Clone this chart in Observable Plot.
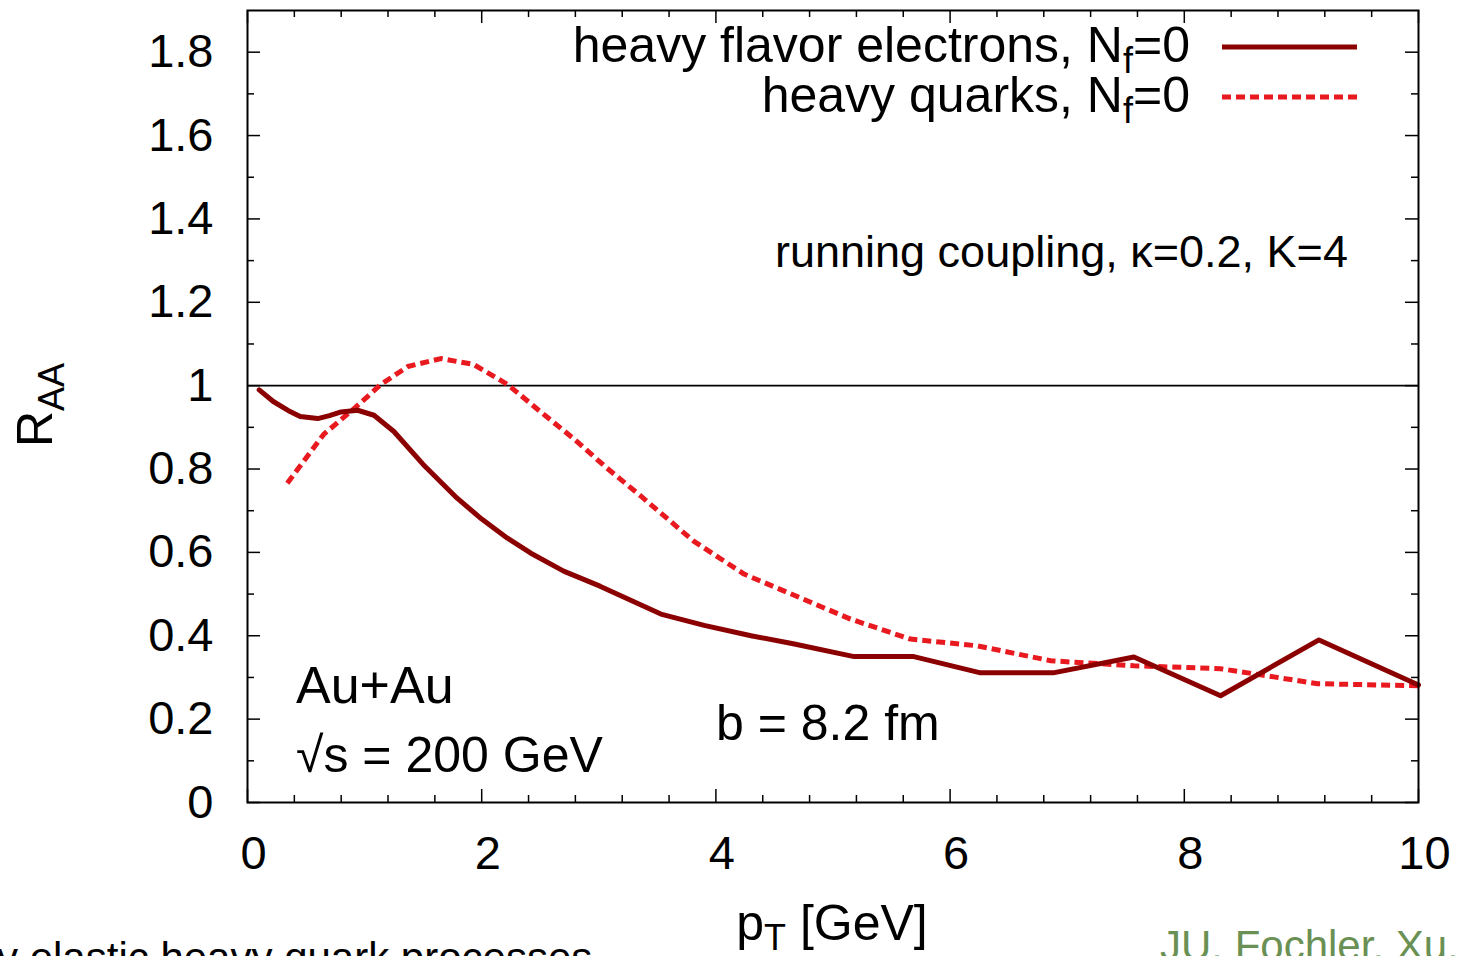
<!DOCTYPE html>
<html>
<head>
<meta charset="utf-8">
<script src="https://cdn.jsdelivr.net/npm/d3@7"></script>
<script src="https://cdn.jsdelivr.net/npm/@observablehq/plot@0.6"></script>
<style>
  html, body { margin: 0; padding: 0; background: #fff; overflow: hidden; }
  #chart svg { display: block; }
</style>
</head>
<body>
<div id="chart"></div>
<script>
// ---- data ----
const electronsPt  = [0.10, 0.22, 0.35, 0.45, 0.60, 0.70, 0.80, 0.94, 1.08, 1.25, 1.50, 1.79, 2.00, 2.22, 2.42, 2.70, 3.01, 3.53, 3.90, 4.30, 4.66, 5.18, 5.69, 6.26, 6.88, 7.57, 8.31, 9.15, 10.0];
const electronsRaa = [0.990, 0.962, 0.940, 0.926, 0.921, 0.928, 0.937, 0.941, 0.929, 0.890, 0.811, 0.730, 0.680, 0.634, 0.598, 0.555, 0.519, 0.452, 0.425, 0.400, 0.381, 0.350, 0.350, 0.311, 0.311, 0.349, 0.256, 0.390, 0.282];

const quarksPt  = [0.34, 0.65, 0.91, 1.14, 1.37, 1.65, 1.93, 2.22, 2.50, 2.78, 3.07, 3.36, 3.81, 4.24, 4.72, 5.15, 5.66, 6.23, 6.86, 7.57, 8.31, 9.14, 10.0];
const quarksRaa = [0.766, 0.883, 0.945, 1.003, 1.046, 1.065, 1.051, 1.003, 0.938, 0.874, 0.802, 0.735, 0.627, 0.548, 0.491, 0.440, 0.392, 0.376, 0.340, 0.328, 0.321, 0.285, 0.280];

const xMajorTicks = [0, 2, 4, 6, 8, 10];
const xMinorTicks = [0.4, 0.8, 1.2, 1.6, 2.4, 2.8, 3.2, 3.6, 4.4, 4.8, 5.2, 5.6, 6.4, 6.8, 7.2, 7.6, 8.4, 8.8, 9.2, 9.6];
const yMajorTicks = [0, 0.2, 0.4, 0.6, 0.8, 1, 1.2, 1.4, 1.6, 1.8];
const yMinorTicks = [0.1, 0.3, 0.5, 0.7, 0.9, 1.1, 1.3, 1.5, 1.7];
const referenceLine = [1];

const seriesNames = ["heavy flavor electrons", "heavy quarks"];

// ---- tables built from the arrays ----
const electrons = electronsPt.map((pt, i) => ({pt, raa: electronsRaa[i]}));
const quarks = quarksPt.map((pt, i) => ({pt, raa: quarksRaa[i]}));

// ---- layout ----
const W = 1458, H = 956;
const mL = 247, mR = 40, mT = 10, mB = 154;
const innerW = W - mL - mR, innerH = H - mT - mB;
const majorLen = 13, minorLen = 7;
const font = "'Liberation Sans', Arial, Helvetica, sans-serif";
const darkRed = "#8b0000", red = "#e8191f";

const tickStyle = {stroke: "black", strokeWidth: 1.5};

const svg = Plot.plot({
  width: W, height: H,
  marginLeft: mL, marginRight: mR, marginTop: mT, marginBottom: mB,
  style: {fontFamily: font, background: "white", color: "black", overflow: "hidden"},
  x: {domain: [0, 10], label: null},
  y: {domain: [0, 1.9], label: null},
  marks: [
    Plot.ruleY(referenceLine, {stroke: "black", strokeWidth: 1.6}),
    // ticks, inward, on all four sides
    Plot.tickX(xMajorTicks, {x: d => d, insetTop: innerH - majorLen, ...tickStyle}),
    Plot.tickX(xMajorTicks, {x: d => d, insetBottom: innerH - majorLen, ...tickStyle}),
    Plot.tickX(xMinorTicks, {x: d => d, insetTop: innerH - minorLen, ...tickStyle}),
    Plot.tickX(xMinorTicks, {x: d => d, insetBottom: innerH - minorLen, ...tickStyle}),
    Plot.tickY(yMajorTicks, {y: d => d, insetRight: innerW - majorLen, ...tickStyle}),
    Plot.tickY(yMajorTicks, {y: d => d, insetLeft: innerW - majorLen, ...tickStyle}),
    Plot.tickY(yMinorTicks, {y: d => d, insetRight: innerW - minorLen, ...tickStyle}),
    Plot.tickY(yMinorTicks, {y: d => d, insetLeft: innerW - minorLen, ...tickStyle}),
    // series
    Plot.line(quarks, {x: "pt", y: "raa", stroke: red, strokeWidth: 5, strokeDasharray: "9,5", strokeLinecap: "butt"}),
    Plot.line(electrons, {x: "pt", y: "raa", stroke: darkRed, strokeWidth: 5}),
    Plot.frame({stroke: "black", strokeWidth: 2}),
    // tick labels
    Plot.axisX(xMajorTicks, {tickSize: 0, tickPadding: 33, fontSize: 47, dx: 6, label: null, tickFormat: d => String(d)}),
    Plot.axisY(yMajorTicks, {tickSize: 0, tickPadding: 34, fontSize: 47, label: null, tickFormat: d => String(d)})
  ]
});

document.getElementById("chart").appendChild(svg);

// ---- annotations (texts with subscripts, legend) ----
const s = d3.select(svg);
const frameRight = W - mR;

function subText(g, parts, attrs, baseSize) {
  const t = g.append("text").attr("font-family", font).attr("font-size", baseSize)
    .attr("fill", "black").attr("text-anchor", "start");
  for (const [k, v] of Object.entries(attrs)) t.attr(k, v);
  let shifted = 0;
  for (const p of parts) {
    const ts = t.append("tspan").text(p.text);
    if (p.sub) {
      ts.attr("font-size", baseSize * 0.72).attr("dy", p.sub);
      shifted = p.sub;
    } else if (shifted) {
      ts.attr("dy", -shifted);
      shifted = 0;
    }
  }
  return t;
}

function plainText(g, str, x, y, size, fill = "black") {
  return g.append("text").attr("x", x).attr("y", y)
    .attr("font-family", font).attr("font-size", size)
    .attr("fill", fill).attr("text-anchor", "start").text(str);
}

const ann = s.append("g");

// legend
const legendSize = 50;
subText(ann, [{text: seriesNames[0] + ", N"}, {text: "f", sub: 11}, {text: "=0"}],
  {x: frameRight - 228, y: 62, "text-anchor": "end"}, legendSize);
subText(ann, [{text: seriesNames[1] + ", N"}, {text: "f", sub: 11}, {text: "=0"}],
  {x: frameRight - 228, y: 112, "text-anchor": "end"}, legendSize);
ann.append("line").attr("x1", frameRight - 196).attr("x2", frameRight - 61)
  .attr("y1", 47).attr("y2", 47).attr("stroke", darkRed).attr("stroke-width", 5);
ann.append("line").attr("x1", frameRight - 196).attr("x2", frameRight - 61)
  .attr("y1", 97).attr("y2", 97).attr("stroke", red).attr("stroke-width", 5)
  .attr("stroke-dasharray", "9,5");

// in-plot annotations
plainText(ann, "running coupling, κ=0.2, K=4", 775, 267, 45);
plainText(ann, "Au+Au", 296, 703, 52);
plainText(ann, "√s = 200 GeV", 296, 772, 50);
plainText(ann, "b = 8.2 fm", 716, 740, 50);

// axis titles
subText(ann, [{text: "p"}, {text: "T", sub: 10}, {text: " [GeV]"}],
  {x: 832, y: 940, "text-anchor": "middle"}, 50);
subText(ann, [{text: "R"}, {text: "AA", sub: 12}],
  {transform: "translate(52,405) rotate(-90)", "text-anchor": "middle"}, 50);

// slide remnants at the bottom edge
plainText(ann, "y elastic heavy quark processes", -3, 972, 42);
plainText(ann, "JU. Fochler. Xu.", 1160, 960, 42, "#6a9054");
</script>
</body>
</html>
